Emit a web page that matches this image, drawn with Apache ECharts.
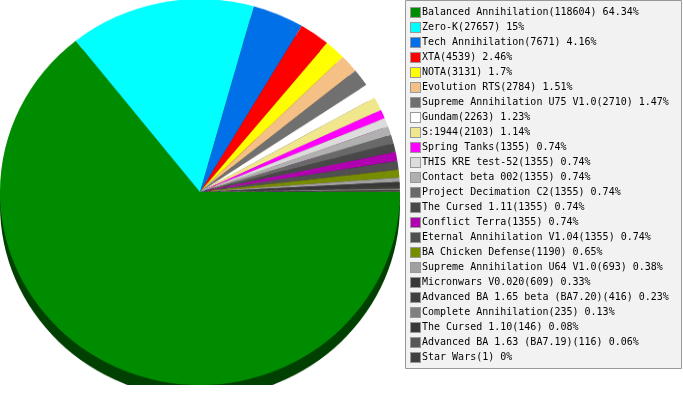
<!DOCTYPE html>
<html>
<head>
<meta charset="utf-8">
<script src="https://cdn.jsdelivr.net/npm/echarts@6/dist/echarts.min.js"></script>
<style>
html,body{margin:0;padding:0;background:#fff;}
#wrap{position:relative;width:683px;height:400px;overflow:hidden;}
#pie{position:absolute;left:0;top:-1px;width:400px;height:400px;transform:scaleY(0.965);transform-origin:0 0;}
#leg{position:absolute;left:0;top:0;width:683px;height:400px;}
</style>
</head>
<body>
<div id="wrap"><div id="pie"></div><div id="leg"></div></div>
<script>
const categories = [
  'Balanced Annihilation', 'Zero-K', 'Tech Annihilation', 'XTA', 'NOTA',
  'Evolution RTS', 'Supreme Annihilation U75 V1.0', 'Gundam', 'S:1944',
  'Spring Tanks', 'THIS KRE test-52', 'Contact beta 002', 'Project Decimation C2',
  'The Cursed 1.11', 'Conflict Terra', 'Eternal Annihilation V1.04',
  'BA Chicken Defense', 'Supreme Annihilation U64 V1.0', 'Micronwars V0.020',
  'Advanced BA 1.65 beta (BA7.20)', 'Complete Annihilation', 'The Cursed 1.10',
  'Advanced BA 1.63 (BA7.19)', 'Star Wars'
];
const values = [
  118604, 27657, 7671, 4539, 3131,
  2784, 2710, 2263, 2103,
  1355, 1355, 1355, 1355,
  1355, 1355, 1355,
  1190, 693, 609,
  416, 235, 146,
  116, 1
];
const colors = [
  '#008c00', '#00ffff', '#0070e8', '#ff0000', '#ffff00',
  '#f4c085', '#707070', '#ffffff', '#f0e68c',
  '#ff00ff', '#dcdcdc', '#b0b0b0', '#696969',
  '#484848', '#b000b0', '#505050',
  '#788c00', '#a0a0a0', '#383838',
  '#404040', '#808080', '#383838',
  '#585858', '#404040'
];

const total = values.reduce((a, b) => a + b, 0);
function darken(hex, f) {
  const n = parseInt(hex.slice(1), 16);
  const r = Math.round(((n >> 16) & 255) * f);
  const g = Math.round(((n >> 8) & 255) * f);
  const b = Math.round((n & 255) * f);
  return 'rgb(' + r + ',' + g + ',' + b + ')';
}
const pieData = categories.map((c, i) => ({ name: c, value: values[i], itemStyle: { color: colors[i] } }));
const shadowData = categories.map((c, i) => ({ name: c, value: values[i], itemStyle: { color: darken(colors[i], 0.46) } }));

const pieChart = echarts.init(document.getElementById('pie'), null, { renderer: 'canvas' });
const common = {
  type: 'pie',
  radius: 200,
  startAngle: 0,
  clockwise: true,
  silent: true,
  label: { show: false },
  labelLine: { show: false },
  emphasis: { disabled: true },
  itemStyle: { borderWidth: 0 },
  animation: false
};
pieChart.setOption({
  animation: false,
  series: [
    Object.assign({}, common, { name: 'shadow', center: [200, 213.5], data: shadowData, z: 1 }),
    Object.assign({}, common, { name: 'share', center: [200, 200], data: pieData, z: 2 })
  ]
});

const rich = { t: { fontFamily: 'DejaVu Sans Mono', fontSize: 10, color: '#000', lineHeight: 15, padding: [0, 0, 0, 2] } };
colors.forEach((c, i) => {
  rich['s' + i] = { width: 9, height: 9, backgroundColor: c, borderColor: '#999', borderWidth: 1 };
});

const legChart = echarts.init(document.getElementById('leg'), null, { renderer: 'canvas' });
legChart.setOption({
  animation: false,
  graphic: [{
    type: 'rect',
    z: 0,
    shape: { x: 405.5, y: 0.5, width: 276, height: 368 },
    style: { fill: '#f2f2f2', stroke: '#999', lineWidth: 1 }
  }],
  legend: {
    orient: 'vertical',
    left: 406,
    top: 5,
    padding: 0,
    itemGap: 0,
    itemWidth: 0,
    itemHeight: 0,
    icon: 'none',
    selectedMode: false,
    data: categories,
    textStyle: { fontFamily: 'DejaVu Sans Mono', fontSize: 10, color: '#000', lineHeight: 15, rich: rich },
    formatter: function (name) {
      const i = categories.indexOf(name);
      const pct = +(values[i] / total * 100).toFixed(2);
      return '{s' + i + '|}{t|' + name + '(' + values[i] + ') ' + pct + '%}';
    }
  },
  series: [{
    type: 'pie',
    name: 'legend',
    radius: 0,
    center: [-50, -50],
    silent: true,
    label: { show: false },
    labelLine: { show: false },
    data: pieData
  }]
});
</script>
</body>
</html>
